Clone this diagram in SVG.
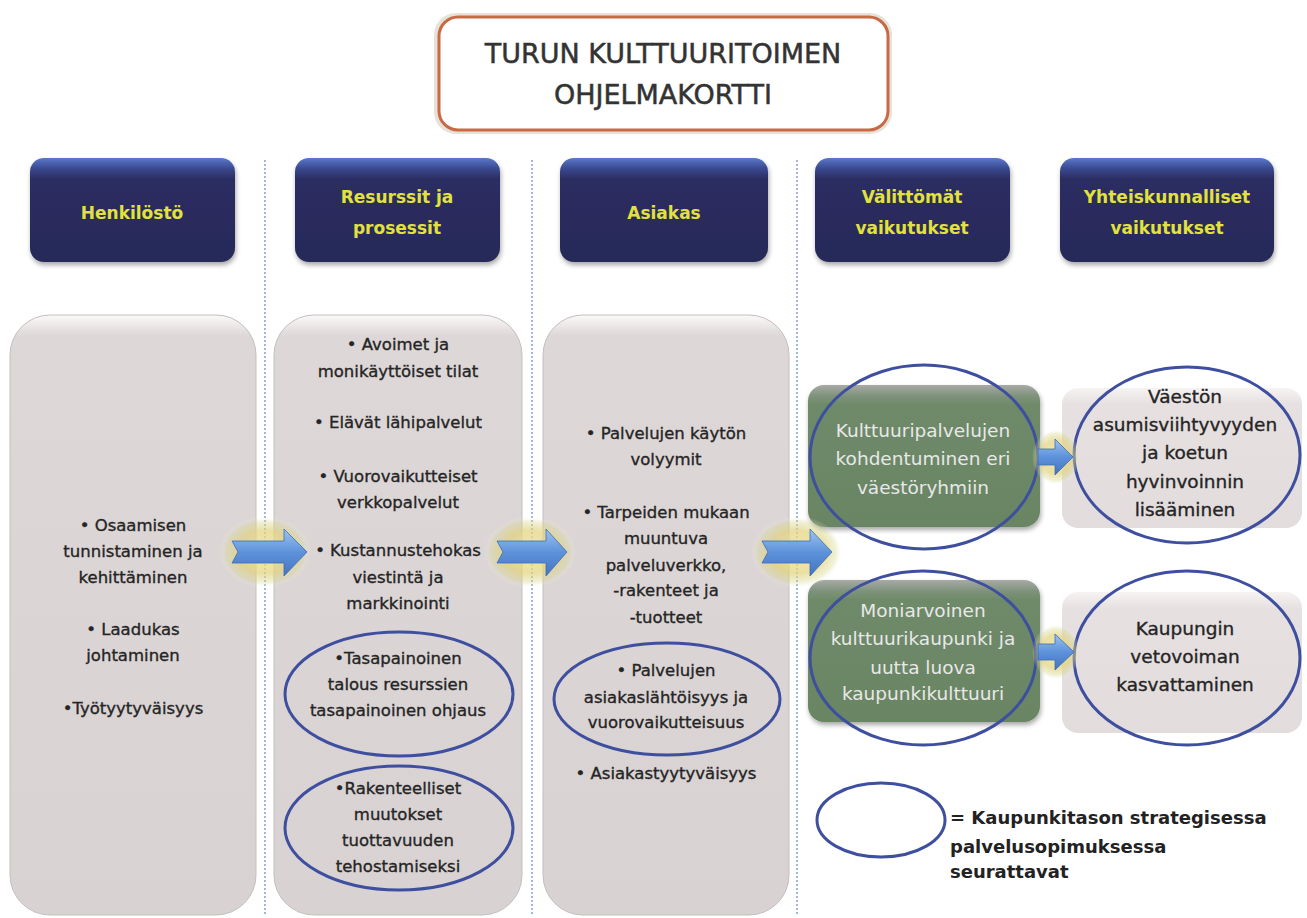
<svg xmlns="http://www.w3.org/2000/svg" width="1307" height="918" viewBox="0 0 1307 918">
<defs>
<linearGradient id="hdr" x1="0" y1="0" x2="0" y2="1">
<stop offset="0" stop-color="#5a78cc"/><stop offset="0.1" stop-color="#3a4a90"/><stop offset="0.2" stop-color="#2b2d62"/><stop offset="1" stop-color="#272a58"/>
</linearGradient>
<linearGradient id="gry" x1="0" y1="0" x2="0" y2="1">
<stop offset="0" stop-color="#fbf9f9"/><stop offset="0.035" stop-color="#ddd7d7"/><stop offset="1" stop-color="#d8d2d2"/>
</linearGradient>
<linearGradient id="gry2" x1="0" y1="0" x2="0" y2="1">
<stop offset="0" stop-color="#f6f3f3"/><stop offset="0.12" stop-color="#e6e0e0"/><stop offset="1" stop-color="#e2dcdc"/>
</linearGradient>
<linearGradient id="grn" x1="0" y1="0" x2="0" y2="1">
<stop offset="0" stop-color="#a8aaa6"/><stop offset="0.08" stop-color="#7d927a"/><stop offset="0.14" stop-color="#6e8a68"/><stop offset="1" stop-color="#6a8564"/>
</linearGradient>
<linearGradient id="arr" x1="0" y1="0" x2="0" y2="1">
<stop offset="0" stop-color="#9cc4ee"/><stop offset="0.5" stop-color="#5d92da"/><stop offset="1" stop-color="#4474c0"/>
</linearGradient>
<radialGradient id="glow">
<stop offset="0" stop-color="#f2eaa0" stop-opacity="0.9"/><stop offset="0.6" stop-color="#e2d27a" stop-opacity="0.7"/><stop offset="0.85" stop-color="#d8d890" stop-opacity="0.35"/><stop offset="1" stop-color="#ffffff" stop-opacity="0"/>
</radialGradient>
<filter id="sh" x="-10%" y="-10%" width="120%" height="125%">
<feGaussianBlur in="SourceAlpha" stdDeviation="2.5"/><feOffset dx="1" dy="3"/><feComponentTransfer><feFuncA type="linear" slope="0.35"/></feComponentTransfer>
<feMerge><feMergeNode/><feMergeNode in="SourceGraphic"/></feMerge>
</filter>
</defs>
<style>
.vl{stroke:#9db8e2;stroke-width:2;stroke-dasharray:2 2;fill:none}
.hb{fill:url(#hdr);filter:url(#sh)}
.ht{font-family:"DejaVu Sans",sans-serif;font-weight:bold;font-size:17px;fill:#e2e23c;text-anchor:middle}
.gb{fill:url(#gry);stroke:#c4bebe;stroke-width:1}
.gb2{fill:url(#gry2)}
.gn{fill:url(#grn);filter:url(#sh)}
.bt{font-family:"DejaVu Sans",sans-serif;font-size:16.5px;fill:#252525;stroke:#252525;stroke-width:0.35;text-anchor:middle}
.wt{font-family:"DejaVu Sans",sans-serif;font-size:18.5px;fill:#e8e8e8;text-anchor:middle}
.rt{font-family:"DejaVu Sans",sans-serif;font-size:18.5px;fill:#252525;stroke:#252525;stroke-width:0.35;text-anchor:middle}
.el{fill:none;stroke:#3f4f9f;stroke-width:3}
.ar{fill:url(#arr);stroke:#3e6cb8;stroke-width:0.8}
.gl{fill:url(#glow)}
.lg{font-family:"DejaVu Sans",sans-serif;font-weight:bold;font-size:18px;fill:#222}
</style>
<rect x="0" y="0" width="1307" height="918" fill="#ffffff"/>

<g id="dividers">
<line class="vl" x1="265" y1="160" x2="265" y2="915"/>
<line class="vl" x1="532" y1="160" x2="532" y2="915"/>
<line class="vl" x1="797" y1="160" x2="797" y2="915"/>
</g>

<g id="title">
<rect x="434" y="13" width="458" height="121" rx="22" fill="#e6e2da"/>
<rect x="439" y="17" width="449" height="113" rx="19" fill="#ffffff" stroke="#c86a44" stroke-width="3"/>
<text x="663" y="63" font-family="DejaVu Sans, sans-serif" font-size="27" fill="#333" stroke="#333" stroke-width="0.5" text-anchor="middle">TURUN KULTTUURITOIMEN</text>
<text x="663" y="104" font-family="DejaVu Sans, sans-serif" font-size="27" fill="#333" stroke="#333" stroke-width="0.5" text-anchor="middle">OHJELMAKORTTI</text>
</g>

<g id="h-henkilosto"><rect class="hb" x="30" y="158" width="205" height="104" rx="14"/><text class="ht" x="132" y="219">Henkilöstö</text></g>
<g id="h-resurssit"><rect class="hb" x="295" y="158" width="205" height="104" rx="14"/><text class="ht" x="397" y="203">Resurssit ja</text><text class="ht" x="397" y="234">prosessit</text></g>
<g id="h-asiakas"><rect class="hb" x="560" y="158" width="208" height="104" rx="14"/><text class="ht" x="664" y="219">Asiakas</text></g>
<g id="h-valittomat"><rect class="hb" x="815" y="158" width="195" height="104" rx="14"/><text class="ht" x="912" y="203">Välittömät</text><text class="ht" x="912" y="234">vaikutukset</text></g>
<g id="h-yhteiskunnalliset"><rect class="hb" x="1060" y="158" width="214" height="104" rx="14"/><text class="ht" x="1167" y="203">Yhteiskunnalliset</text><text class="ht" x="1167" y="234">vaikutukset</text></g>

<g id="n-henkilosto">
<rect class="gb" x="10" y="315" width="246" height="600" rx="40"/>
<text class="bt" x="133" y="531">• Osaamisen</text>
<text class="bt" x="133" y="557">tunnistaminen ja</text>
<text class="bt" x="133" y="583">kehittäminen</text>
<text class="bt" x="133" y="635">• Laadukas</text>
<text class="bt" x="133" y="661">johtaminen</text>
<text class="bt" x="133" y="714">•Työtyytyväisyys</text>
</g>

<g id="n-resurssit">
<rect class="gb" x="274" y="315" width="248" height="600" rx="40"/>
<text class="bt" x="398" y="350">• Avoimet ja</text>
<text class="bt" x="398" y="377">monikäyttöiset tilat</text>
<text class="bt" x="398" y="428">• Elävät lähipalvelut</text>
<text class="bt" x="398" y="482">• Vuorovaikutteiset</text>
<text class="bt" x="398" y="508">verkkopalvelut</text>
<text class="bt" x="398" y="556">• Kustannustehokas</text>
<text class="bt" x="398" y="583">viestintä ja</text>
<text class="bt" x="398" y="609">markkinointi</text>
<ellipse class="el" cx="399" cy="694" rx="114" ry="62"/>
<text class="bt" x="398" y="664">•Tasapainoinen</text>
<text class="bt" x="398" y="690">talous resurssien</text>
<text class="bt" x="398" y="716">tasapainoinen ohjaus</text>
<ellipse class="el" cx="399" cy="828" rx="114" ry="62"/>
<text class="bt" x="398" y="794">•Rakenteelliset</text>
<text class="bt" x="398" y="820">muutokset</text>
<text class="bt" x="398" y="846">tuottavuuden</text>
<text class="bt" x="398" y="872">tehostamiseksi</text>
</g>

<g id="n-asiakas">
<rect class="gb" x="543" y="315" width="246" height="600" rx="40"/>
<text class="bt" x="666" y="439">• Palvelujen käytön</text>
<text class="bt" x="666" y="465">volyymit</text>
<text class="bt" x="666" y="518">• Tarpeiden mukaan</text>
<text class="bt" x="666" y="544">muuntuva</text>
<text class="bt" x="666" y="571">palveluverkko,</text>
<text class="bt" x="666" y="596">-rakenteet ja</text>
<text class="bt" x="666" y="623">-tuotteet</text>
<ellipse class="el" cx="667" cy="699" rx="113" ry="56"/>
<text class="bt" x="666" y="676">• Palvelujen</text>
<text class="bt" x="666" y="703">asiakaslähtöisyys ja</text>
<text class="bt" x="666" y="728">vuorovaikutteisuus</text>
<text class="bt" x="666" y="779">• Asiakastyytyväisyys</text>
</g>

<g id="n-kohdentuminen">
<rect class="gn" x="808" y="385" width="232" height="142" rx="16"/>
<ellipse class="el" cx="924" cy="457" rx="114" ry="92"/>
<text class="wt" x="923" y="437">Kulttuuripalvelujen</text>
<text class="wt" x="923" y="465">kohdentuminen eri</text>
<text class="wt" x="923" y="494">väestöryhmiin</text>
</g>

<g id="n-asumisviihtyvyys">
<rect class="gb2" x="1062" y="388" width="240" height="140" rx="16"/>
<ellipse class="el" cx="1187" cy="455" rx="113" ry="88"/>
<text class="rt" x="1185" y="403">Väestön</text>
<text class="rt" x="1185" y="431">asumisviihtyvyyden</text>
<text class="rt" x="1185" y="459">ja koetun</text>
<text class="rt" x="1185" y="488">hyvinvoinnin</text>
<text class="rt" x="1185" y="516">lisääminen</text>
</g>

<g id="n-moniarvoinen">
<rect class="gn" x="808" y="580" width="232" height="142" rx="16"/>
<ellipse class="el" cx="923" cy="658" rx="113" ry="87"/>
<text class="wt" x="923" y="617">Moniarvoinen</text>
<text class="wt" x="923" y="645">kulttuurikaupunki ja</text>
<text class="wt" x="923" y="674">uutta luova</text>
<text class="wt" x="923" y="700">kaupunkikulttuuri</text>
</g>

<g id="n-vetovoima">
<rect class="gb2" x="1062" y="592" width="240" height="141" rx="16"/>
<ellipse class="el" cx="1187" cy="658" rx="113" ry="87"/>
<text class="rt" x="1185" y="635">Kaupungin</text>
<text class="rt" x="1185" y="663">vetovoiman</text>
<text class="rt" x="1185" y="691">kasvattaminen</text>
</g>

<g id="connectors">
<ellipse class="gl" cx="265" cy="552" rx="46" ry="36"/>
<polygon class="ar" points="232,541 284,541 284,529 307,552 284,576 284,563 232,563 238,552"/>
<ellipse class="gl" cx="530" cy="552" rx="46" ry="36"/>
<polygon class="ar" points="497,541 546,541 546,529 567,552 546,576 546,563 497,563 503,552"/>
<ellipse class="gl" cx="797" cy="552" rx="46" ry="36"/>
<polygon class="ar" points="762,541 810,541 810,529 832,552 810,576 810,563 762,563 768,552"/>
<ellipse class="gl" cx="1056" cy="457" rx="24" ry="28"/>
<polygon class="ar" points="1038,449 1055,449 1055,439 1073,457 1055,475 1055,465 1038,465"/>
<ellipse class="gl" cx="1056" cy="652" rx="24" ry="28"/>
<polygon class="ar" points="1038,644 1055,644 1055,634 1074,652 1055,670 1055,660 1038,660"/>
</g>

<g id="legend">
<ellipse class="el" cx="881" cy="820" rx="64" ry="37"/>
<text class="lg" x="950" y="824">= Kaupunkitason strategisessa</text>
<text class="lg" x="950" y="853">palvelusopimuksessa</text>
<text class="lg" x="950" y="878">seurattavat</text>
</g>
</svg>
